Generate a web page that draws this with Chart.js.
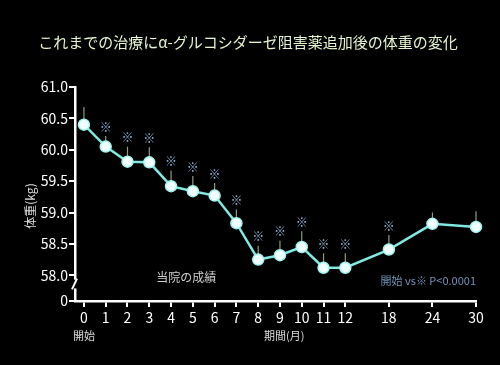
<!DOCTYPE html>
<html lang="ja">
<head>
  <meta charset="UTF-8">
  <title>体重の変化</title>
  <script src="https://cdn.jsdelivr.net/npm/chart.js"></script>
  <style>
    html, body { margin: 0; padding: 0; background: #000; }
    canvas { display: block; }
  </style>
</head>
<body>
  <canvas id="weightChart" width="500" height="365"></canvas>

  <script>
    // データ
    const monthLabels = ['0','1','2','3','4','5','6','7','8','9','10','11','12','18','24','30'];
    const weight = [60.40, 60.05, 59.81, 59.80, 59.42, 59.34, 59.27, 58.83, 58.25, 58.32, 58.45, 58.12, 58.12, 58.41, 58.82, 58.77];
    const errTop = [60.68, 60.22, 60.05, 60.04, 59.67, 59.58, 59.47, 59.05, 58.47, 58.55, 58.70, 58.35, 58.35, 58.64, 59.00, 59.02];
    const signif = [false, true, true, true, true, true, true, true, true, true, true, true, true, true, false, false];
    const yTicks = [58.0, 58.5, 59.0, 59.5, 60.0, 60.5, 61.0];
    const yBreakLabel = '0';
    const yFloor = 57.59; // 軸の切れ目の下端

    const titleText = 'これまでの治療にα-グルコシダーゼ阻害薬追加後の体重の変化';
    const fontJP = '"Noto Sans CJK JP", "Noto Sans", sans-serif';

    // 12ヶ月以降は間隔を詰めて表示
    function slot(m) { return m <= 12 ? m : 12 + (m - 12) / 3; }
    const xSlots = monthLabels.map(l => slot(Number(l)));

    const points = weight.map((v, i) => ({ x: xSlots[i], y: v }));

    const extras = {
      id: 'extras',
      beforeDatasetsDraw(chart) {
        const { ctx, scales: { x, y } } = chart;
        ctx.save();
        ctx.strokeStyle = '#8d9c86';
        ctx.lineWidth = 1.2;
        errTop.forEach((t, i) => {
          const px = x.getPixelForValue(xSlots[i]);
          ctx.beginPath();
          ctx.moveTo(px, y.getPixelForValue(weight[i]));
          ctx.lineTo(px, y.getPixelForValue(t));
          ctx.stroke();
        });
        ctx.restore();
      },
      afterDraw(chart) {
        const { ctx, scales: { x, y }, chartArea } = chart;
        ctx.save();

        // タイトル
        ctx.fillStyle = '#e6f4cf';
        ctx.font = '15px ' + fontJP;
        ctx.textAlign = 'center';
        ctx.textBaseline = 'middle';
        ctx.fillText(titleText, 248, 42);

        // ※ 印
        ctx.fillStyle = '#8fb6dc';
        ctx.font = 'bold 12px ' + fontJP;
        signif.forEach((s, i) => {
          if (!s) return;
          ctx.fillText('※', x.getPixelForValue(xSlots[i]), y.getPixelForValue(errTop[i]) - 9);
        });

        // 注記
        ctx.fillStyle = '#cfcfcf';
        ctx.font = '12px ' + fontJP;
        ctx.fillText('当院の成績', x.getPixelForValue(4.7), y.getPixelForValue(57.96));

        ctx.fillStyle = '#7393bb';
        ctx.font = '11px ' + fontJP;
        ctx.textAlign = 'right';
        ctx.fillText('開始 vs※ P<0.0001', chartArea.right, y.getPixelForValue(57.91));

        ctx.fillStyle = '#dddddd';
        ctx.textAlign = 'center';
        ctx.font = '11px ' + fontJP;
        ctx.fillText('開始', x.getPixelForValue(0), 336);
        ctx.fillText('期間(月)', x.getPixelForValue(9.2), 336);

        // 縦軸タイトル
        ctx.font = '12px ' + fontJP;
        ctx.translate(30, 206);
        ctx.rotate(-Math.PI / 2);
        ctx.fillText('体重(kg)', 0, 0);
        ctx.setTransform(1, 0, 0, 1, 0, 0);

        // 軸の切れ目
        const ax = chartArea.left;
        const yA = y.getPixelForValue(57.93);
        const yB = y.getPixelForValue(57.79);
        ctx.fillStyle = '#000';
        ctx.fillRect(ax - 3, yA, 6, yB - yA);
        ctx.strokeStyle = '#fff';
        ctx.lineWidth = 2;
        ctx.beginPath();
        ctx.moveTo(ax - 3, yB + 1);
        ctx.lineTo(ax + 2, yA - 1);
        ctx.stroke();
        ctx.restore();
      }
    };

    new Chart(document.getElementById('weightChart'), {
      type: 'line',
      data: {
        datasets: [{
          data: points,
          borderColor: '#7fe9e2',
          borderWidth: 2.5,
          pointRadius: 5.5,
          pointBackgroundColor: '#f2ffff',
          pointBorderColor: '#9ff5ef',
          pointBorderWidth: 1.5,
          tension: 0,
          clip: false
        }]
      },
      options: {
        responsive: false,
        animation: false,
        layout: { padding: { top: 87, right: 24, left: 0, bottom: 0 } },
        plugins: {
          legend: { display: false },
          tooltip: { enabled: false }
        },
        scales: {
          x: {
            type: 'linear',
            min: -0.41,
            max: xSlots[xSlots.length - 1],
            afterBuildTicks: s => { s.ticks = xSlots.map(v => ({ value: v })); },
            afterFit: s => { s.height = 64; },
            ticks: {
              color: '#ffffff',
              font: { size: 14, family: fontJP },
              padding: 2,
              maxRotation: 0,
              autoSkip: false,
              callback: (v, i) => monthLabels[i]
            },
            grid: { drawOnChartArea: false, color: '#ffffff', lineWidth: 2, tickLength: 6 },
            border: { color: '#ffffff', width: 2.5 }
          },
          y: {
            min: yFloor,
            max: yTicks[yTicks.length - 1],
            afterBuildTicks: s => { s.ticks = [{ value: yFloor }].concat(yTicks.map(v => ({ value: v }))); },
            afterFit: s => { s.width = 75; },
            ticks: {
              color: '#ffffff',
              font: { size: 14, family: fontJP },
              padding: 1,
              autoSkip: false,
              callback: v => v === yFloor ? yBreakLabel : v.toFixed(1)
            },
            grid: { drawOnChartArea: false, color: '#ffffff', lineWidth: 2, tickLength: 6 },
            border: { color: '#ffffff', width: 2.5 }
          }
        }
      },
      plugins: [extras]
    });
  </script>
</body>
</html>
